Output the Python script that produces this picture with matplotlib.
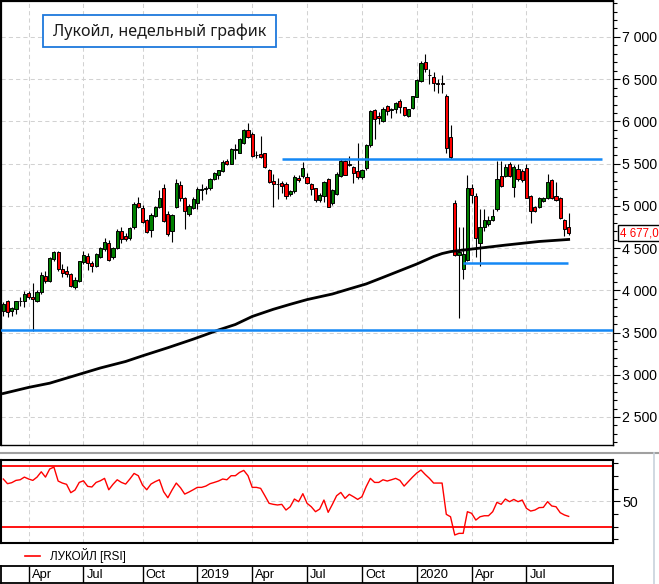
import matplotlib
matplotlib.use('Agg')
import matplotlib.pyplot as plt
import matplotlib.transforms as mtransforms
from matplotlib.patches import Rectangle
from matplotlib.lines import Line2D
from matplotlib.ticker import FixedLocator, MultipleLocator, FuncFormatter, NullFormatter

# ---------------- data (weekly candles, Lukoil) ----------------
opens = [3751, 3877, 3751, 3778, 3869, 3869, 3963, 3924, 3869, 3976,
         4169, 4106, 4369, 4452, 4251, 4232, 4192, 4035, 4106, 4330,
         4405, 4326, 4291, 4397, 4488, 4559, 4389, 4496, 4697, 4641,
         4618, 4744, 5039, 4980, 4830, 4712, 4881, 4988, 5209, 4902,
         4705, 4992, 5248, 5090, 4902, 4980, 5028, 5190, 5205, 5209,
         5323, 5366, 5413, 5532, 5500, 5670, 5630, 5745, 5894, 5847,
         5600, 5618, 5622, 5422, 5295, 5264, 5268, 5264, 5138, 5170,
         5335, 5351, 5340, 5256, 5209, 5075, 5118, 5323, 5031, 5146,
         5355, 5532, 5480, 5461, 5413, 5340, 5445, 5717, 6131, 6064,
         6005, 6178, 6140, 6142, 6241, 6165, 6068, 6154, 6292, 6477,
         6702, 6550, 6525, 6452, 6450, 6300, 5816, 5031, 4420, 4250,
         4358, 5209, 5118, 4555, 4744, 4783, 4834, 4961, 5355, 5355,
         5492, 5224, 5433, 5414, 5445, 5118, 4988, 4988, 5059, 5098,
         5303, 5118, 5090, 4834, 4752]
highs = [3857, 3885, 3798, 3877, 3916, 3995, 3995, 4082, 4003, 4212,
         4224, 4389, 4460, 4460, 4310, 4291, 4200, 4153, 4350, 4460,
         4436, 4350, 4436, 4515, 4618, 4594, 4515, 4724, 4744, 4673,
         4752, 5051, 5106, 5012, 4842, 4921, 5000, 5185, 5264, 4940,
         4900, 5315, 5295, 5110, 5020, 5100, 5220, 5256, 5236, 5330,
         5400, 5430, 5540, 5560, 5680, 5729, 5800, 5910, 5985, 5870,
         5650, 5827, 5630, 5440, 5374, 5335, 5290, 5280, 5190, 5360,
         5370, 5520, 5390, 5270, 5215, 5150, 5300, 5330, 5200, 5400,
         5560, 5545, 5591, 5475, 5741, 5440, 5730, 6140, 6145, 6110,
         6165, 6190, 6160, 6230, 6260, 6175, 6150, 6300, 6500, 6710,
         6800, 6615, 6580, 6500, 6544, 6320, 5960, 5070, 4744, 4744,
         5366, 5256, 5157, 4961, 4960, 4880, 4961, 5532, 5532, 5500,
         5520, 5480, 5500, 5440, 5500, 5130, 5000, 5100, 5110, 5374,
         5320, 5284, 5100, 4840, 4921]
lows = [3692, 3680, 3700, 3720, 3818, 3806, 3897, 3522, 3857, 3956,
        4082, 4094, 4350, 4232, 4161, 4161, 4042, 4015, 4094, 4310,
        4240, 4212, 4279, 4381, 4468, 4350, 4369, 4484, 4555, 4586,
        4594, 4724, 4972, 4791, 4673, 4634, 4862, 4980, 4803, 4645,
        4567, 4980, 5059, 4724, 4882, 4960, 4960, 5067, 5146, 5190,
        5310, 5315, 5400, 5480, 5490, 5552, 5620, 5730, 5800, 5580,
        5571, 5570, 5450, 5270, 4988, 5080, 5150, 5080, 5120, 5150,
        5280, 5330, 5260, 5126, 5050, 5047, 5050, 4985, 5010, 5130,
        5340, 5360, 5473, 5276, 5315, 5320, 5420, 5700, 5788, 5970,
        5990, 6080, 6040, 6100, 6100, 6060, 6050, 6150, 6285, 6470,
        6580, 6438, 6360, 6340, 6339, 5630, 5560, 4409, 3672, 4133,
        4350, 5039, 4389, 4283, 4700, 4760, 4820, 4940, 5220, 5340,
        5340, 5100, 5300, 5280, 5090, 4791, 4930, 4970, 5040, 5080,
        5080, 5060, 4840, 4645, 4657]
closes = [3838, 3739, 3790, 3869, 3875, 3956, 3924, 3897, 3976, 4184,
          4106, 4381, 4452, 4251, 4204, 4192, 4046, 4125, 4350, 4417,
          4318, 4291, 4428, 4500, 4574, 4362, 4500, 4704, 4606, 4606,
          4736, 5027, 4988, 4803, 4685, 4893, 4988, 5098, 4815, 4665,
          4890, 5276, 5098, 4933, 5000, 5079, 5197, 5205, 5217, 5315,
          5386, 5421, 5524, 5500, 5670, 5665, 5788, 5894, 5815, 5591,
          5603, 5583, 5461, 5288, 5256, 5262, 5236, 5118, 5177, 5343,
          5303, 5453, 5270, 5197, 5075, 5126, 5283, 4992, 5189, 5382,
          5532, 5370, 5492, 5394, 5340, 5425, 5717, 6123, 6024, 6036,
          6150, 6123, 6144, 6213, 6165, 6080, 6142, 6296, 6489, 6694,
          6615, 6544, 6450, 6448, 6438, 5690, 5580, 4417, 4450, 4430,
          5209, 5126, 4614, 4744, 4834, 4834, 4882, 5315, 5236, 5465,
          5355, 5465, 5315, 5303, 5098, 4941, 4941, 5090, 5098, 5284,
          5087, 5071, 4854, 4724, 4677]
rsi = [67.6, 63.9, 64.7, 66.5, 67.0, 69.1, 67.6, 66.5, 69.1, 73.3,
       69.1, 75.5, 77.0, 66.0, 64.4, 63.4, 56.8, 58.9, 64.9, 66.2,
       61.8, 61.3, 64.9, 66.2, 68.1, 59.1, 63.4, 67.0, 64.9, 63.6,
       67.6, 72.0, 70.2, 62.8, 59.1, 63.6, 65.5, 67.0, 57.6, 52.8,
       58.9, 64.4, 60.7, 55.7, 57.3, 59.1, 61.0, 61.0, 62.0, 63.9,
       64.9, 66.0, 67.6, 67.0, 70.2, 70.2, 72.8, 74.4, 70.2, 61.0,
       61.0, 60.2, 54.4, 48.4, 47.6, 47.1, 47.6, 43.1, 45.7, 51.8,
       49.7, 56.0, 48.4, 45.7, 41.8, 43.9, 51.0, 41.3, 47.6, 54.4,
       57.0, 52.3, 55.5, 53.6, 51.5, 53.6, 61.5, 68.1, 64.9, 64.9,
       67.0, 66.0, 67.0, 68.1, 66.5, 62.0, 65.5, 69.1, 72.3, 74.7,
       71.2, 68.1, 64.4, 64.4, 64.4, 39.7, 37.8, 23.4, 24.7, 24.7,
       41.8, 40.5, 35.2, 37.8, 38.6, 38.6, 41.8, 49.2, 47.6, 51.8,
       49.7, 51.5, 49.7, 51.0, 44.4, 42.3, 43.1, 45.0, 45.2, 49.7,
       46.3, 45.7, 41.0, 39.2, 38.1]
ma_idx = [0, 6, 11, 17, 23, 29, 33, 39, 45, 48, 51, 55, 59, 64, 68, 72, 78,
          82, 86, 90, 94, 98, 102, 104, 106, 111, 119, 127, 134]
ma_val = [2778, 2850, 2900, 2990, 3080, 3157, 3224, 3320, 3421, 3475, 3530, 3595,
          3690, 3775, 3834, 3890, 3956, 4016, 4075, 4153, 4232, 4311, 4400,
          4435, 4458, 4488, 4535, 4578, 4602]
month_idx = [6, 19, 33, 46, 59, 72, 85, 98, 111, 124]
month_lbl = ['Apr', 'Jul', 'Oct', '2019', 'Apr', 'Jul', 'Oct', '2020', 'Apr', 'Jul']
price_ticks = [2500, 3000, 3500, 4000, 4500, 5000, 5500, 6000, 6500, 7000]
resistance = 5550
support_long = 3530
support_short = 4320
rsi_upper, rsi_lower = 77.6, 30
title = 'Лукойл, недельный график'
legend_label = 'ЛУКОЙЛ [RSI]'

# ---------------- layout ----------------
W, H = 659, 584
NARROW = ['Liberation Sans Narrow', 'Liberation Sans', 'DejaVu Sans']
plt.rcParams['font.family'] = NARROW

fig = plt.figure(figsize=(W / 100, H / 100), dpi=100)
fig.patch.set_facecolor('white')


def fbox(l, t, r, b):
    return [l / W, 1 - b / H, (r - l) / W, (b - t) / H]


XLIM = (-0.66, 144.58)
GREEN, RED, BLUE = '#008000', '#FF0000', '#1488F5'
GRID = dict(color='#D2D2D2', lw=0.75, ls=(0, (4, 3)))

# ---------------- price panel ----------------
ax = fig.add_axes(fbox(0.5, 0.8, 613.3, 445))
ax.set_xlim(*XLIM)
ax.set_ylim(2168, 7428)
for m in month_idx:
    ax.axvline(m, zorder=0, **GRID)
for p in price_ticks:
    ax.axhline(p, zorder=0, **GRID)

idx = list(range(len(opens)))
ax.vlines(idx, lows, highs, color='black', lw=0.8, zorder=2)
bottoms = [min(o, c) for o, c in zip(opens, closes)]
heights = [abs(c - o) for o, c in zip(opens, closes)]
cols = [GREEN if c >= o else RED for o, c in zip(opens, closes)]
ax.bar(idx, heights, bottom=bottoms, width=0.75, color=cols,
       edgecolor='black', linewidth=0.7, zorder=3)

ax.plot(ma_idx, ma_val, color='black', lw=2.0, zorder=4)
ax.axhline(support_long, color=BLUE, lw=1.8, zorder=5)
ax.hlines(resistance, 66, 141.8, color=BLUE, lw=1.8, zorder=5)
ax.hlines(support_short, 108.9, 133.8, color=BLUE, lw=1.8, zorder=5)

ax.yaxis.tick_right()
ax.yaxis.set_major_locator(FixedLocator(price_ticks))
ax.yaxis.set_minor_locator(MultipleLocator(100))
ax.yaxis.set_major_formatter(FuncFormatter(lambda v, p: f'{int(v):,}'.replace(',', ' ')))
ax.tick_params(axis='y', which='major', direction='out', length=5, width=0.8,
               pad=1.5, labelsize=10.2, colors='black')
ax.tick_params(axis='y', which='minor', direction='out', length=3.2, width=0.8)
ax.set_xticks([])
for s in ['left', 'top']:
    ax.spines[s].set_linewidth(1.6)
for s in ['right', 'bottom']:
    ax.spines[s].set_linewidth(1.0)

trans = mtransforms.blended_transform_factory(ax.transAxes, ax.transData)
ax.text(1.0115, closes[-1], f'{closes[-1]:,}'.replace(',', ' ') + ',0',
        transform=trans, color=RED, fontsize=8.3, va='center', ha='left',
        bbox=dict(boxstyle='square,pad=0.18', fc='white', ec='black', lw=1.0),
        clip_on=False)

# title box
fig.add_artist(Rectangle((43.3 / W, 1 - 47.3 / H), (275.7 - 43.3) / W, 32.3 / H,
                         transform=fig.transFigure, fc='white', ec='#1E78DC', lw=1.3))
fig.text(159.5 / W, 1 - 31.5 / H, title, ha='center', va='center',
         fontsize=11.6, color='#1A1A1A', family=['Noto Sans', 'DejaVu Sans'])

# separator
fig.add_artist(Line2D([0, 1], [1 - 453.3 / H] * 2, color='#A0A0A0', lw=1.5,
                      transform=fig.transFigure))
fig.add_artist(Line2D([654 / W] * 2, [0, 1 - 453.3 / H], color='#C8D2DC', lw=1.2,
                      transform=fig.transFigure))

# ---------------- RSI panel ----------------
ar = fig.add_axes(fbox(0.5, 460, 613.3, 543.3))
ar.set_xlim(*XLIM)
ar.set_ylim(16.85, 82.6)
for m in month_idx:
    ar.axvline(m, zorder=0, **GRID)
ar.axhline(50, zorder=0, **GRID)
ar.axhline(rsi_upper, color=RED, lw=1.3, zorder=2)
ar.axhline(rsi_lower, color=RED, lw=1.3, zorder=2)
ar.plot(idx, rsi, color=RED, lw=1.0, zorder=3)
ar.yaxis.tick_right()
ar.yaxis.set_major_locator(FixedLocator([50]))
ar.yaxis.set_minor_locator(FixedLocator([20, 30, 40, 60, 70, 80]))
ar.yaxis.set_minor_formatter(NullFormatter())
ar.tick_params(axis='y', which='major', direction='out', length=5, width=0.8,
               pad=1.5, labelsize=10.2)
ar.tick_params(axis='y', which='minor', direction='out', length=3.5, width=0.8)
ar.set_xticks([])
for s in ar.spines.values():
    s.set_linewidth(1.5)

# legend
fig.add_artist(Line2D([25 / W, 40 / W], [1 - 555.5 / H] * 2, color=RED, lw=1.2,
                      transform=fig.transFigure))
fig.text(50 / W, 1 - 555.5 / H, legend_label, ha='left', va='center',
         fontsize=8.4, color='black')

# ---------------- date bar ----------------
ab = fig.add_axes(fbox(0.5, 565.7, 613.3, 582.5))
ab.set_xlim(*XLIM)
ab.set_ylim(0, 1)
ab.set_xticks([])
ab.set_yticks([])
for s in ab.spines.values():
    s.set_linewidth(1.3)
ab.vlines(month_idx, 0, 1, color='black', lw=1.0)
tb = mtransforms.offset_copy(ab.transData, fig=fig, x=3, y=0, units='dots')
for m, lbl in zip(month_idx, month_lbl):
    ab.text(m, 0.45, lbl, transform=tb, ha='left', va='center', fontsize=9.3)

fig.savefig('out.png', dpi=100, facecolor='white')
